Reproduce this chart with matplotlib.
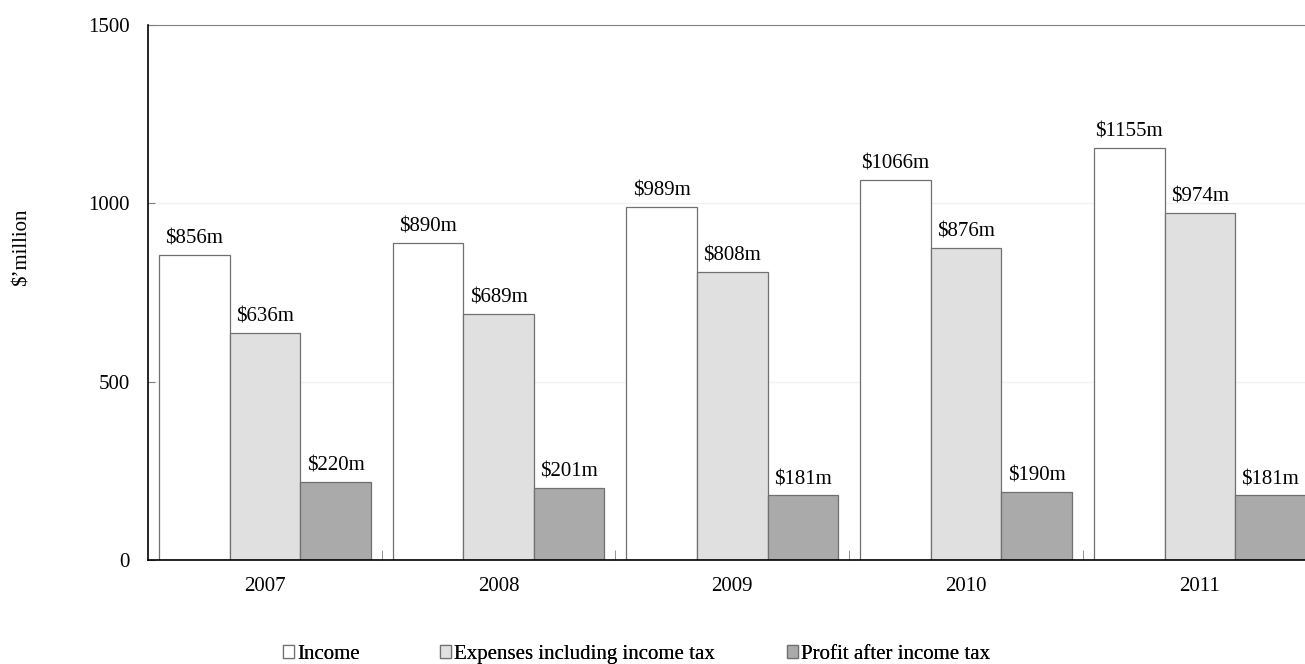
import numpy as np
import matplotlib
matplotlib.use('Agg')
import matplotlib.pyplot as plt

years = ['2007', '2008', '2009', '2010', '2011']
income = [856, 890, 989, 1066, 1155]
expenses = [636, 689, 808, 876, 974]
profit = [220, 201, 181, 190, 181]
series_names = ['Income', 'Expenses including income tax', 'Profit after income tax']
colours = ['#ffffff', '#e0e0e0', '#aaaaaa']

plt.rcParams['font.family'] = ['Liberation Serif', 'DejaVu Serif']

fig = plt.figure(figsize=(13.05, 6.64), dpi=100)
ax = fig.add_axes([0.1134, 0.1566, 0.8866, 0.8057])

x = np.arange(len(years))
w = 0.302
handles = []
for i, (vals, col, name) in enumerate(zip([income, expenses, profit], colours, series_names)):
    pos = x + (i - 1) * w
    b = ax.bar(pos, vals, width=w, color=col, edgecolor='#707070', linewidth=0.9, label=name, zorder=2)
    handles.append(b)
    for px, v in zip(pos, vals):
        ax.text(px, v + 18, '$%dm' % v, ha='center', va='bottom', fontsize=15)

ax.set_xlim(-0.5, 4.45)
ax.set_ylim(0, 1500)
ax.set_yticks([0, 500, 1000, 1500])
ax.set_xticks(x)
ax.set_xticklabels(years)
ax.set_xticks(np.arange(0.5, 4.5, 1), minor=True)
ax.tick_params(axis='x', which='major', length=0, pad=12, labelsize=15)
ax.tick_params(axis='x', which='minor', direction='in', length=7, color='#808080')
ax.tick_params(axis='y', direction='in', length=5, pad=13, labelsize=15, color='#808080')
ax.grid(axis='y', color='#f2f2f2', linewidth=1, zorder=0)
ax.spines['right'].set_visible(False)
ax.spines['top'].set_color('#808080')
ax.spines['left'].set_linewidth(1.2)
ax.spines['bottom'].set_linewidth(1.2)
ax.spines['left'].set_zorder(5)
ax.spines['bottom'].set_zorder(5)

fig.text(22 / 1305, 1 - 247 / 664, "$\u2019million", rotation=90, ha='center', va='center', fontsize=15)

# three single-entry legends, spaced as in the original
leg_x = [268, 425, 772]
for h, name, lx in zip(handles, series_names, leg_x):
    lg = fig.legend([h], [name], loc='lower left', bbox_to_anchor=(lx / 1305, -0.022),
                    frameon=False, fontsize=15, handlelength=0.55, handleheight=0.55,
                    handletextpad=0.15, borderpad=0.2)
    fig.add_artist(lg)

fig.savefig('out.png', dpi=100)
